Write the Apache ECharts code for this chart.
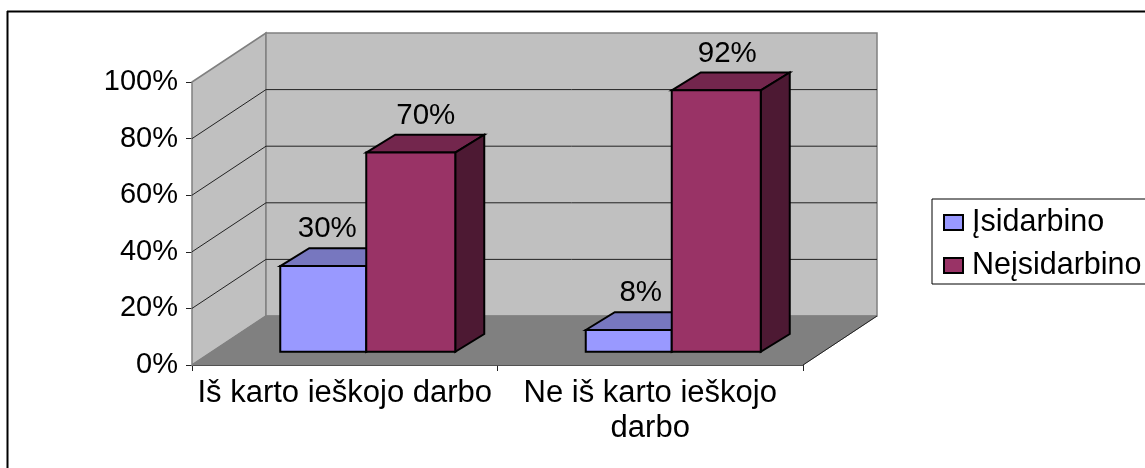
<!DOCTYPE html>
<html><head><meta charset="utf-8">
<style>html,body{margin:0;padding:0;background:#fff}#c{width:1145px;height:468px}</style>
<script src="https://cdn.jsdelivr.net/npm/echarts@6/dist/echarts.min.js"></script>
</head><body><div id="c"></div>
<script>
const categories = ['Iš karto ieškojo darbo', 'Ne iš karto ieškojo\ndarbo'];
const seriesNames = ['Įsidarbino', 'Neįsidarbino'];
const isidarbino = [30.3, 7.7];
const neisidarbino = [70.4, 92.4];
const yTicks = [0, 20, 40, 60, 80, 100];

const FONT = '29.5px "Liberation Sans", Arial, sans-serif';
const DX = 74, DY = 49;           // full depth of the 3D box
const OX = 21.5, OY = 13.2;       // bar front offset from the front plane
const SX = 29, SY = 17.8;         // bar depth
const BLUE_W = 86, RED_W = 89;
const nudgeBlue = [-8, 0], nudgeRed = [3, -1];

const chart = echarts.init(document.getElementById('c'), null, {renderer: 'canvas'});

function poly(points, fill, stroke, lw) {
  return {type: 'polygon', shape: {points}, style: {fill, stroke: stroke || null, lineWidth: lw || 0, lineJoin: 'miter'}};
}
function wallItem(params, api) {
  const cs = params.coordSys;
  const l = cs.x, r = cs.x + cs.width, b = cs.y + cs.height, t = cs.y;
  const children = [
    poly([[l, t], [l + DX, t - DY], [l + DX, b - DY], [l, b]], '#C0C0C0', '#808080', 1.5),
    poly([[l + DX, t - DY], [r + DX, t - DY], [r + DX, b - DY], [l + DX, b - DY]], '#C0C0C0', '#808080', 1.5),
    poly([[l + DX, b - DY], [r + DX, b - DY], [r, b], [l, b]], '#808080', '#808080', 1)
  ];
  yTicks.slice(1, -1).forEach(v => {
    const y = api.coord([0, v])[1];
    children.push({type: 'polyline', shape: {points: [[l, y], [l + DX, y - DY], [r + DX, y - DY]]},
      style: {fill: null, stroke: '#222', lineWidth: 1}});
  });
  children.push({type: 'line', shape: {x1: r + DX, y1: b - DY, x2: r, y2: b}, style: {stroke: '#222', lineWidth: 1}});
  return {type: 'group', children};
}
function barItem(isLeft, width, front, top, sideCol) {
  return function (params, api) {
    const i = api.value(0), v = api.value(1);
    const cx = api.coord([i, 0])[0], y0 = api.coord([i, 0])[1], y1 = api.coord([i, v])[1];
    const x0 = isLeft ? cx - width : cx, x1 = x0 + width;
    const fx0 = x0 + OX, fx1 = x1 + OX, by = y0 - OY, ty = y1 - OY;
    const nudgeX = (isLeft && i === 0) ? nudgeBlue[0] : (!isLeft ? (i === 0 ? nudgeRed[0] : nudgeRed[1]) : 0);
    return {type: 'group', children: [
      poly([[fx0, ty], [fx0 + SX, ty - SY], [fx1 + SX, ty - SY], [fx1, ty]], top, '#000', 2),
      poly([[fx1, ty], [fx1 + SX, ty - SY], [fx1 + SX, by - SY], [fx1, by]], sideCol, '#000', 2),
      poly([[fx0, ty], [fx1, ty], [fx1, by], [fx0, by]], front, '#000', 2),
      {type: 'text', style: {text: Math.round(v) + '%', x: (fx0 + fx1) / 2 + 12 + nudgeX, y: ty - SY - 19,
        fill: '#000', font: FONT, align: 'center', verticalAlign: 'middle'}}
    ]};
  };
}
const toData = arr => arr.map((v, i) => [i, v]);

chart.setOption({
  animation: false,
  backgroundColor: '#fff',
  graphic: [
    {type: 'line', z: -10, shape: {x1: 7, y1: 11.5, x2: 1145, y2: 11.5}, style: {stroke: '#000', lineWidth: 2}},
    {type: 'line', z: -10, shape: {x1: 7.5, y1: 11, x2: 7.5, y2: 468}, style: {stroke: '#000', lineWidth: 2}}
  ],
  grid: {left: 192, top: 82, width: 611, height: 283, containLabel: false},
  legend: {
    orient: 'vertical', left: 932, top: 199, padding: [8, 40, 3, 11],
    itemGap: 12, itemWidth: 19, itemHeight: 15, borderColor: '#000', borderWidth: 1,
    textStyle: {fontFamily: 'Liberation Sans', fontSize: 30.5, color: '#000', padding: [0, 0, 0, 4]},
    data: seriesNames.map(name => ({name, icon: 'rect'}))
  },
  xAxis: {type: 'category', data: categories, boundaryGap: true,
    axisLine: {show: true, onZero: false, lineStyle: {color: '#222', width: 1}},
    axisTick: {show: true, alignWithLabel: false, length: 6, lineStyle: {color: '#222'}},
    axisLabel: {fontFamily: 'Liberation Sans', fontSize: 31, color: '#000', margin: 11, lineHeight: 35, interval: 0}},
  yAxis: {type: 'value', min: 0, max: 100, interval: 20,
    axisLine: {show: true, lineStyle: {color: '#222', width: 1}},
    axisTick: {show: true, length: 6, lineStyle: {color: '#222'}},
    splitLine: {show: false},
    axisLabel: {formatter: '{value}%', fontFamily: 'Liberation Sans', fontSize: 29, color: '#000', margin: 14}},
  series: [
    {type: 'custom', silent: true, coordinateSystem: 'cartesian2d', z: 1, renderItem: wallItem, data: [[0, 0]], clip: false},
    {type: 'custom', name: seriesNames[0], coordinateSystem: 'cartesian2d', z: 2, clip: false,
      itemStyle: {color: '#9999FF', borderColor: '#000', borderWidth: 1},
      renderItem: barItem(true, BLUE_W, '#9999FF', '#7777BF', '#5F5F9F'), data: toData(isidarbino)},
    {type: 'custom', name: seriesNames[1], coordinateSystem: 'cartesian2d', z: 3, clip: false,
      itemStyle: {color: '#993366', borderColor: '#000', borderWidth: 1},
      renderItem: barItem(false, RED_W, '#993366', '#73264D', '#4D1933'), data: toData(neisidarbino)}
  ]
});
</script></body></html>
